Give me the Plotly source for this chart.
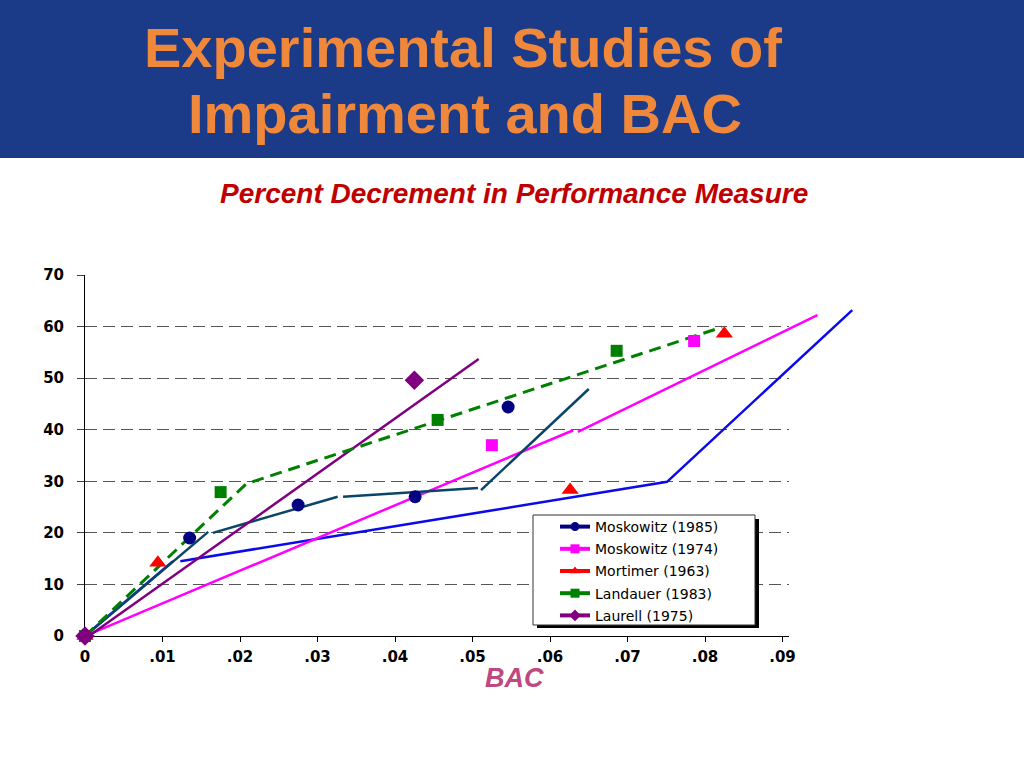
import plotly.graph_objects as go

# ---------------- data ----------------
x_tick_vals = [0, 0.01, 0.02, 0.03, 0.04, 0.05, 0.06, 0.07, 0.08, 0.09]
x_tick_text = ["0", ".01", ".02", ".03", ".04", ".05", ".06", ".07", ".08", ".09"]
y_tick_vals = [0, 10, 20, 30, 40, 50, 60, 70]
y_tick_text = ["0", "10", "20", "30", "40", "50", "60", "70"]

series_names = ["Moskowitz (1985)", "Moskowitz (1974)", "Mortimer (1963)",
                "Landauer (1983)", "Laurell (1975)"]

# observed points
mosk85_x = [0, 0.0135, 0.0275, 0.0426, 0.0546]
mosk85_y = [0, 19.0, 25.4, 27.0, 44.4]
mosk74_x = [0, 0.0525, 0.0786]
mosk74_y = [0, 37.0, 57.2]
mort_x = [0, 0.0094, 0.0626, 0.0825]
mort_y = [0, 14.2, 28.3, 58.6]
land_x = [0, 0.0175, 0.0455, 0.0686]
land_y = [0, 27.9, 41.9, 55.3]
laur_x = [0, 0.0425]
laur_y = [0, 49.6]

# fitted (piecewise) lines
fit_teal_x = [0, 0.0159, None, 0.0165, 0.0326, None, 0.0333, 0.0507, None, 0.0511, 0.0650]
fit_teal_y = [0, 20.2, None, 20.0, 27.0, None, 27.0, 28.7, None, 28.3, 47.9]
fit_blue_x = [0, 0.01135, None, 0.0123, 0.0751, 0.0990]
fit_blue_y = [0, 14.5, None, 14.5, 29.9, 63.2]
fit_magenta_x = [0, 0.0630, None, 0.0636, 0.0945]
fit_magenta_y = [0, 39.9, None, 39.6, 62.2]
fit_purple_x = [0.0005, 0.0508]
fit_purple_y = [0, 53.7]
fit_green_x = [0, 0.0208, 0.0822]
fit_green_y = [0, 29.5, 59.9]

# ---------------- styles ----------------
NAVY = "#000080"
TEAL = "#0a4568"
BLUE = "#0a0aeb"
MAGENTA = "#ff00ff"
RED = "#ff0000"
GREEN = "#008000"
PURPLE = "#800080"

fig = go.Figure()

def fit(x, y, color, dash="solid", width=2.5):
    fig.add_trace(go.Scatter(x=x, y=y, mode="lines", xaxis="x2", yaxis="y2",
                             line=dict(color=color, width=width, dash=dash),
                             showlegend=False, hoverinfo="skip", connectgaps=False))

def pts(x, y, color, symbol, size):
    fig.add_trace(go.Scatter(x=x, y=y, mode="markers", xaxis="x2", yaxis="y2",
                             marker=dict(color=color, symbol=symbol, size=size,
                                         line=dict(width=0)),
                             cliponaxis=False, showlegend=False))

fit(fit_blue_x, fit_blue_y, BLUE)
fit(fit_magenta_x, fit_magenta_y, MAGENTA)
fit(fit_teal_x, fit_teal_y, TEAL)
fit(fit_purple_x, fit_purple_y, PURPLE)
fit(fit_green_x, fit_green_y, GREEN, dash="12px,7px", width=3)

pts(mosk74_x, mosk74_y, MAGENTA, "square", 12)
pts(mosk85_x, mosk85_y, NAVY, "circle", 13)
pts(mort_x, mort_y, RED, "triangle-up", 15)
pts(land_x, land_y, GREEN, "square", 12)
pts(laur_x, laur_y, PURPLE, "diamond", 15)

# legend entries
legend_styles = [(NAVY, "circle"), (MAGENTA, "square"), (RED, "triangle-up"),
                 (GREEN, "square"), (PURPLE, "diamond")]
for i, (name, (col, sym)) in enumerate(zip(series_names, legend_styles)):
    fig.add_trace(go.Scatter(x=[None], y=[None], mode="lines+markers", name=name,
                             legendgroup="g%d" % i,
                             line=dict(color=col, width=4),
                             marker=dict(color=col, symbol=sym, size=9)))

# ---------------- geometry (pixels -> paper) ----------------
L, R, T, B = 85, 164, 275, 132
PW = 1024 - L - R
PH = 768 - T - B

def px(xp):
    return (xp - L) / PW

def py(yp):
    return (768 - B - yp) / PH

shapes = [
    # banner
    dict(type="rect", xref="paper", yref="paper", x0=px(0), x1=px(1024), y0=py(158), y1=py(0),
         fillcolor="#1b3a87", line=dict(width=0), layer="below"),
    # legend shadow
    dict(type="rect", xref="paper", yref="paper", x0=px(537), x1=px(759), y0=py(628), y1=py(519),
         fillcolor="black", line=dict(width=0), layer="above"),
    # legend box
    dict(type="rect", xref="paper", yref="paper", x0=px(533), x1=px(755), y0=py(625), y1=py(515),
         fillcolor="white", line=dict(color="#333333", width=1), layer="above"),
]

annotations = [
    dict(text="<b>Experimental Studies of</b>", xref="paper", yref="paper", x=px(462.5), y=py(47),
         xanchor="center", yanchor="middle", showarrow=False,
         font=dict(family="Liberation Sans, Arial", size=56, color="#f0883c")),
    dict(text="<b>Impairment and BAC</b>", xref="paper", yref="paper", x=px(465), y=py(113.5),
         xanchor="center", yanchor="middle", showarrow=False,
         font=dict(family="Liberation Sans, Arial", size=56, color="#f0883c")),
    dict(text="<b><i>Percent Decrement in Performance Measure</i></b>", xref="paper", yref="paper",
         x=px(513.5), y=py(193), xanchor="center", yanchor="middle", showarrow=False,
         font=dict(family="Liberation Sans, Arial", size=28, color="#c00000")),
    dict(text="<b><i>BAC</i></b>", xref="paper", yref="paper", x=px(514), y=py(677.5),
         xanchor="center", yanchor="middle", showarrow=False,
         font=dict(family="Liberation Sans, Arial", size=27, color="#c0487f")),
]

tickfont = dict(family="DejaVu Sans", size=15, color="black", weight="bold")
x_end = 0.0908

fig.update_layout(
    width=1024, height=768,
    margin=dict(l=L, r=R, t=T, b=B, autoexpand=False),
    paper_bgcolor="white", plot_bgcolor="rgba(0,0,0,0)",
    xaxis=dict(domain=[0, x_end / 0.1], range=[0, x_end], anchor="y",
               showline=True, linecolor="black", linewidth=1,
               ticks="outside", ticklen=5, tickcolor="black", tickwidth=1,
               tickvals=x_tick_vals, ticktext=x_tick_text, tickfont=tickfont,
               ticklabelstandoff=2, showgrid=False, zeroline=False),
    yaxis=dict(domain=[0, 1], range=[0, 70], anchor="x",
               showline=True, linecolor="black", linewidth=1,
               ticks="outside", ticklen=7, tickcolor="#444444", tickwidth=1,
               tickvals=y_tick_vals, ticktext=y_tick_text, tickfont=tickfont,
               ticklabelstandoff=10,
               showgrid=True, gridcolor="#555555", gridwidth=1, griddash="12px,6px",
               zeroline=False),
    xaxis2=dict(domain=[0, 1], range=[0, 0.1], anchor="y2", visible=False),
    yaxis2=dict(domain=[0, 1], range=[0, 70], anchor="x2", visible=False),
    showlegend=True,
    legend=dict(x=px(555), y=py(511), xanchor="left", yanchor="top",
                bgcolor="rgba(0,0,0,0)", borderwidth=0,
                traceorder="grouped", tracegroupgap=1,
                font=dict(family="DejaVu Sans", size=14, color="black")),
    shapes=shapes,
    annotations=annotations,
)

fig.write_html("out.html",
               config={"displayModeBar": False},
               post_script="document.body.style.margin='0';document.body.style.padding='0';")
